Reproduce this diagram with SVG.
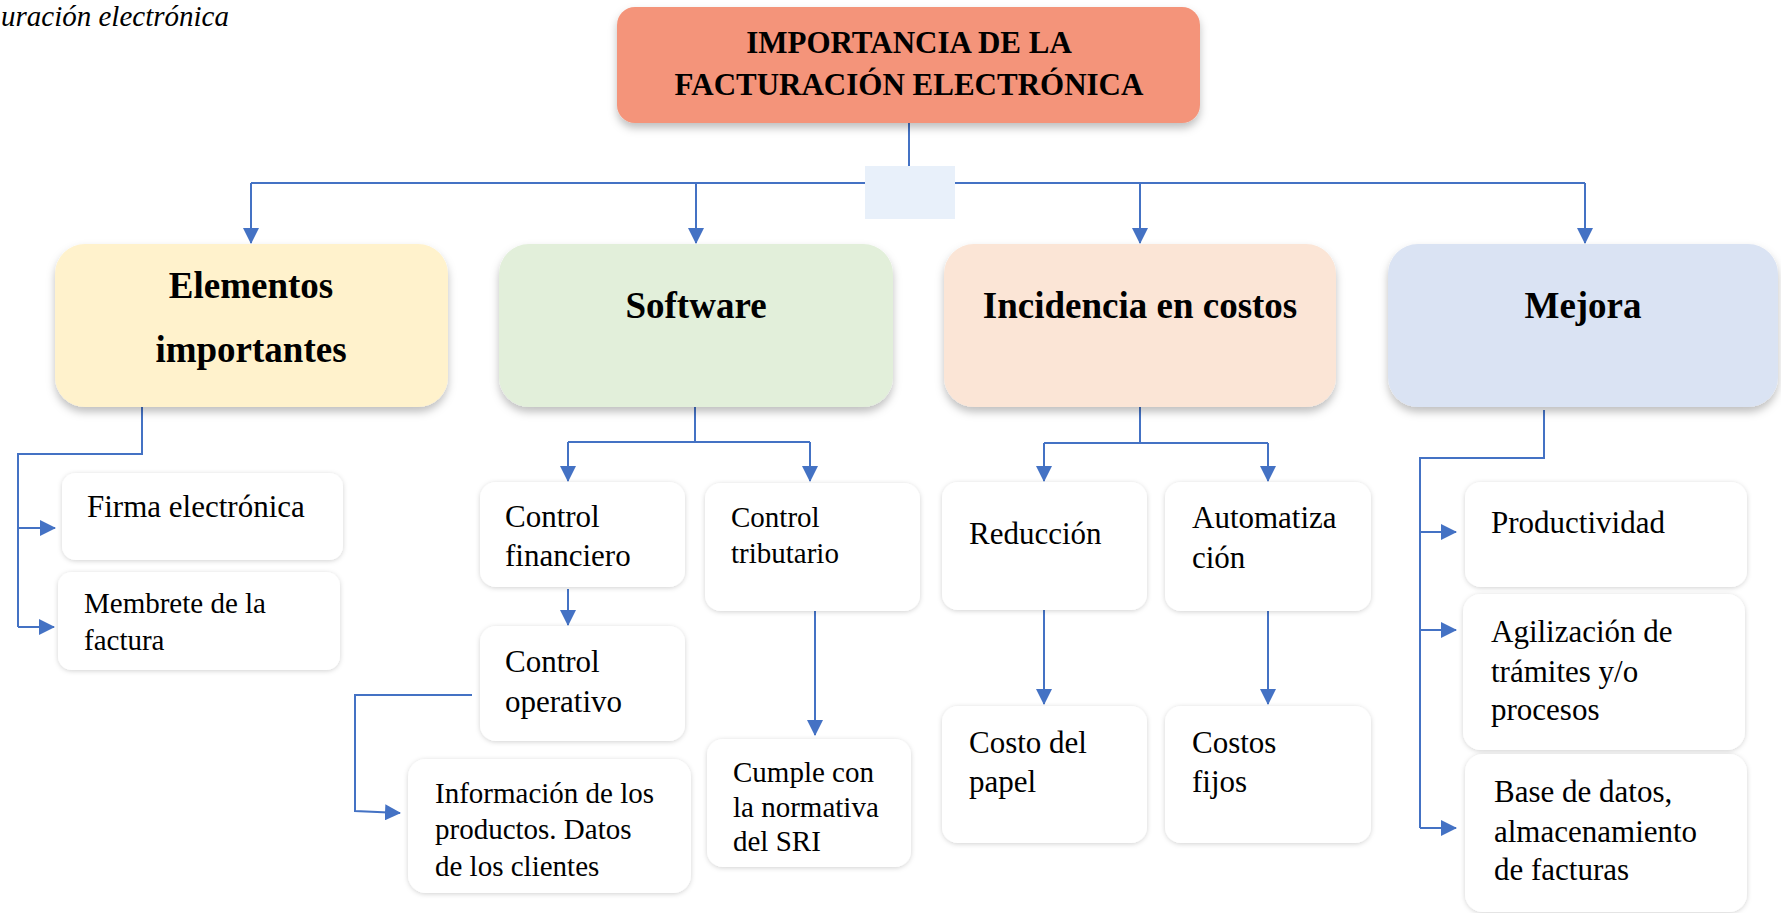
<svg xmlns="http://www.w3.org/2000/svg" width="1781" height="913" viewBox="0 0 1781 913">
<defs>
<filter id="sh1" x="-10%" y="-10%" width="120%" height="130%">
<feDropShadow dx="0" dy="5" stdDeviation="4" flood-color="#000" flood-opacity="0.25"/>
</filter>
<filter id="sh2" x="-10%" y="-10%" width="120%" height="130%">
<feDropShadow dx="0" dy="1" stdDeviation="2.5" flood-color="#000" flood-opacity="0.18"/>
</filter>
<marker id="arr" markerUnits="userSpaceOnUse" markerWidth="16" markerHeight="16" refX="15" refY="8" orient="auto">
<path d="M0,0 L16,8 L0,16 Z" fill="#4472C4"/>
</marker>
<style>
.ln{fill:none;stroke:#4472C4;stroke-width:2}
.t1{font-family:"Liberation Serif","Times New Roman",serif;font-weight:bold;font-size:31px;fill:#000;text-anchor:middle}
.t2{font-family:"Liberation Serif","Times New Roman",serif;font-weight:bold;font-size:37px;fill:#000;text-anchor:middle}
.t3{font-family:"Liberation Serif","Times New Roman",serif;font-size:31px;fill:#000}
.t4{font-family:"Liberation Serif","Times New Roman",serif;font-size:29px;fill:#000}
.cap{font-family:"Liberation Serif","Times New Roman",serif;font-style:italic;font-size:29px;fill:#000}
.wb{fill:#fff;filter:url(#sh2)}
</style>
</defs>
<rect width="1781" height="913" fill="#fff"/>
<text class="cap" x="1" y="26">uración electrónica</text>

<g id="connectors">
<path class="ln" d="M909,123 V166"/>
<rect x="865" y="166" width="90" height="53" fill="#E8F0FA"/>
<path class="ln" d="M251,183 H865 M955,183 H1585"/>
<path class="ln" d="M251,183 V243" marker-end="url(#arr)"/>
<path class="ln" d="M696,183 V243" marker-end="url(#arr)"/>
<path class="ln" d="M1140,183 V243" marker-end="url(#arr)"/>
<path class="ln" d="M1585,183 V243" marker-end="url(#arr)"/>

<path class="ln" d="M142,407 V454 H18 V627"/>
<path class="ln" d="M18,528 H55" marker-end="url(#arr)"/>
<path class="ln" d="M18,627 H54" marker-end="url(#arr)"/>

<path class="ln" d="M695,407 V442 M568,442 H810"/>
<path class="ln" d="M568,442 V481" marker-end="url(#arr)"/>
<path class="ln" d="M810,442 V481" marker-end="url(#arr)"/>
<path class="ln" d="M568,589 V625" marker-end="url(#arr)"/>
<path class="ln" d="M472,695 H355 V811 L400,813" marker-end="url(#arr)"/>
<path class="ln" d="M815,611 V735" marker-end="url(#arr)"/>

<path class="ln" d="M1140,407 V443 M1044,443 H1268"/>
<path class="ln" d="M1044,443 V481" marker-end="url(#arr)"/>
<path class="ln" d="M1268,443 V481" marker-end="url(#arr)"/>
<path class="ln" d="M1044,610 V704" marker-end="url(#arr)"/>
<path class="ln" d="M1268,611 V704" marker-end="url(#arr)"/>

<path class="ln" d="M1544,410 V458 H1420 V828"/>
<path class="ln" d="M1420,532 H1456" marker-end="url(#arr)"/>
<path class="ln" d="M1420,630 H1456" marker-end="url(#arr)"/>
<path class="ln" d="M1420,828 H1456" marker-end="url(#arr)"/>
</g>

<g id="title">
<rect x="617" y="7" width="583" height="116" rx="18" fill="#F4947A" filter="url(#sh1)"/>
<text class="t1" x="909" y="53">IMPORTANCIA DE LA</text>
<text class="t1" x="909" y="95">FACTURACIÓN ELECTRÓNICA</text>
</g>

<g id="elementos">
<rect x="55" y="244" width="393" height="163" rx="30" fill="#FFF2CC" filter="url(#sh1)"/>
<text class="t2" x="251" y="298">Elementos</text>
<text class="t2" x="251" y="362">importantes</text>
</g>
<g id="software">
<rect x="499" y="244" width="394" height="163" rx="30" fill="#E2EFDA" filter="url(#sh1)"/>
<text class="t2" x="696" y="318">Software</text>
</g>
<g id="incidencia">
<rect x="944" y="244" width="392" height="163" rx="30" fill="#FBE5D6" filter="url(#sh1)"/>
<text class="t2" x="1140" y="318">Incidencia en costos</text>
</g>
<g id="mejora">
<rect x="1388" y="244" width="390" height="163" rx="30" fill="#DAE3F3" filter="url(#sh1)"/>
<text class="t2" x="1583" y="318">Mejora</text>
</g>

<g id="firma">
<rect class="wb" x="62" y="473" width="281" height="87" rx="14"/>
<text class="t3" x="87" y="517">Firma electrónica</text>
</g>
<g id="membrete">
<rect class="wb" x="58" y="572" width="282" height="98" rx="14"/>
<text class="t4" x="84" y="613">Membrete de la</text>
<text class="t4" x="84" y="650">factura</text>
</g>

<g id="control-financiero">
<rect class="wb" x="480" y="482" width="205" height="105" rx="16"/>
<text class="t3" x="505" y="527">Control</text>
<text class="t3" x="505" y="566">financiero</text>
</g>
<g id="control-tributario">
<rect class="wb" x="705" y="483" width="215" height="128" rx="16"/>
<text class="t4" x="731" y="527">Control</text>
<text class="t4" x="731" y="563">tributario</text>
</g>
<g id="control-operativo">
<rect class="wb" x="480" y="626" width="205" height="115" rx="16"/>
<text class="t3" x="505" y="672">Control</text>
<text class="t3" x="505" y="712">operativo</text>
</g>
<g id="informacion">
<rect class="wb" x="408" y="759" width="283" height="134" rx="18"/>
<text class="t4" x="435" y="803">Información de los</text>
<text class="t4" x="435" y="839">productos. Datos</text>
<text class="t4" x="435" y="876">de los clientes</text>
</g>
<g id="cumple">
<rect class="wb" x="707" y="739" width="204" height="128" rx="16"/>
<text class="t4" x="733" y="782">Cumple con</text>
<text class="t4" x="733" y="817">la normativa</text>
<text class="t4" x="733" y="851">del SRI</text>
</g>

<g id="reduccion">
<rect class="wb" x="942" y="482" width="205" height="128" rx="16"/>
<text class="t3" x="969" y="544">Reducción</text>
</g>
<g id="automatizacion">
<rect class="wb" x="1165" y="482" width="206" height="129" rx="16"/>
<text class="t3" x="1192" y="528">Automatiza</text>
<text class="t3" x="1192" y="568">ción</text>
</g>
<g id="costo-papel">
<rect class="wb" x="942" y="706" width="205" height="137" rx="16"/>
<text class="t3" x="969" y="753">Costo del</text>
<text class="t3" x="969" y="792">papel</text>
</g>
<g id="costos-fijos">
<rect class="wb" x="1165" y="706" width="206" height="137" rx="16"/>
<text class="t3" x="1192" y="753">Costos</text>
<text class="t3" x="1192" y="792">fijos</text>
</g>

<g id="productividad">
<rect class="wb" x="1465" y="482" width="282" height="105" rx="16"/>
<text class="t3" x="1491" y="533">Productividad</text>
</g>
<g id="agilizacion">
<rect class="wb" x="1463" y="594" width="282" height="156" rx="18"/>
<text class="t3" x="1491" y="642">Agilización de</text>
<text class="t3" x="1491" y="682">trámites y/o</text>
<text class="t3" x="1491" y="720">procesos</text>
</g>
<g id="base-datos">
<rect class="wb" x="1465" y="754" width="282" height="158" rx="18"/>
<text class="t3" x="1494" y="802">Base de datos,</text>
<text class="t3" x="1494" y="842">almacenamiento</text>
<text class="t3" x="1494" y="880">de facturas</text>
</g>
</svg>
